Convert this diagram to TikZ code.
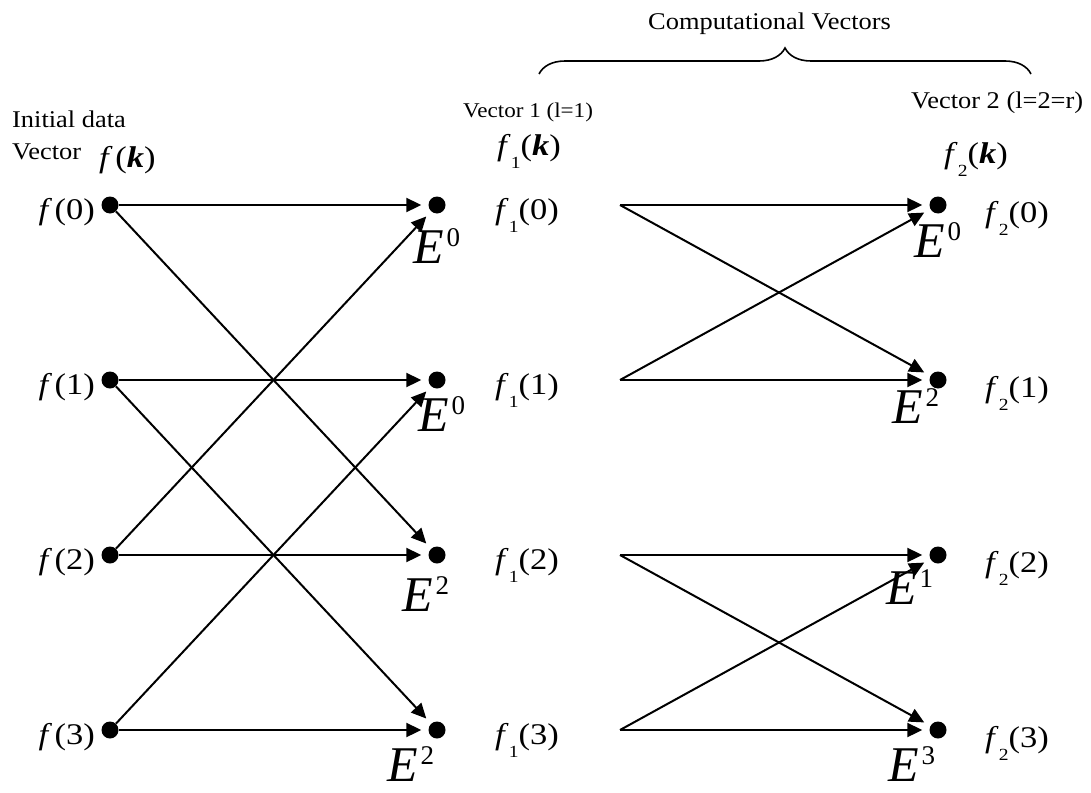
\documentclass[tikz,border=0pt]{standalone}
\usepackage{fontspec}
\setmainfont{Liberation Serif}
\newfontfamily\hdrfont{Liberation Serif}[FakeStretch=1.1]
\newfontfamily\lblfont{Liberation Serif}[FakeStretch=1.15]
\usetikzlibrary{arrows.meta, positioning, decorations.pathreplacing}

\newcommand{\fk}[1]{\textit{f}\kern2.5pt(#1)}
\newcommand{\fsub}[2]{\textit{f}\raisebox{-13pt}{\fontsize{17}{17}\selectfont #1}(#2)}
\newcommand{\Ep}[1]{\textit{E}\kern2pt\raisebox{17pt}{\fontsize{27}{27}\selectfont #1}}

\begin{document}
\begin{tikzpicture}[
    x=1pt, y=-1pt,
    dot/.style={circle, fill=black, inner sep=0pt, minimum size=17pt},
    lbl/.style={font=\lblfont\fontsize{30}{32}\selectfont, inner sep=0pt},
    elbl/.style={font=\fontsize{50}{52}\selectfont, inner sep=0pt},
    txt/.style={font=\hdrfont\fontsize{24}{26}\selectfont, inner sep=0pt, anchor=base west},
    arr/.style={line width=2pt, -{Triangle[length=15pt, width=14pt]}, shorten >=7pt}
]
\useasboundingbox (0,0) rectangle (1091,792);

% headers
\node[txt] (init) at (12,127) {Initial data};
\node[txt] (vec0) at (12,159) {Vector};
\node[lbl, anchor=base west] (fk) at (99,167) {\fk{\textbf{\textit{k}}}};
\node[txt, font=\hdrfont\fontsize{21}{23}\selectfont] (vec1) at (463,117) {Vector 1 (l=1)};
\node[lbl, anchor=base west] (f1k) at (497,155) {\fsub{1}{\textbf{\textit{k}}}};
\node[txt] (vec2) at (911,108) {Vector 2 (l=2=r)};
\node[lbl, anchor=base west] (f2k) at (944,163) {\fsub{2}{\textbf{\textit{k}}}};
\node[txt] (comp) at (648,30) {Computational Vectors};
\coordinate (bl) at (539,74);
\coordinate (br) at (1031,74);
\draw[line width=1.6pt, decorate, decoration={brace, amplitude=26pt}] (bl) -- (br);

% input vector
\node[dot] (a0) at (110,205) {};
\node[dot] (a1) at (110,380) {};
\node[dot] (a2) at (110,555) {};
\node[dot] (a3) at (110,730) {};
\node[lbl, anchor=base east] (la0) at (95,219) {\fk{0}};
\node[lbl, anchor=base east] (la1) at (95,394) {\fk{1}};
\node[lbl, anchor=base east] (la2) at (95,569) {\fk{2}};
\node[lbl, anchor=base east] (la3) at (95,744) {\fk{3}};

% vector 1
\node[dot] (b0) at (437,205) {};
\node[dot] (b1) at (437,380) {};
\node[dot] (b2) at (437,555) {};
\node[dot] (b3) at (437,730) {};
\node[lbl, anchor=base west] (lb0) at (495,219) {\fsub{1}{0}};
\node[lbl, anchor=base west] (lb1) at (495,394) {\fsub{1}{1}};
\node[lbl, anchor=base west] (lb2) at (495,569) {\fsub{1}{2}};
\node[lbl, anchor=base west] (lb3) at (495,744) {\fsub{1}{3}};
\coordinate (c0) at (620,205);
\coordinate (c1) at (620,380);
\coordinate (c2) at (620,555);
\coordinate (c3) at (620,730);

% vector 2
\node[dot] (d0) at (938,205) {};
\node[dot] (d1) at (938,380) {};
\node[dot] (d2) at (938,555) {};
\node[dot] (d3) at (938,730) {};
\node[lbl, anchor=base west] (ld0) at (985,222) {\fsub{2}{0}};
\node[lbl, anchor=base west] (ld1) at (985,397) {\fsub{2}{1}};
\node[lbl, anchor=base west] (ld2) at (985,572) {\fsub{2}{2}};
\node[lbl, anchor=base west] (ld3) at (985,747) {\fsub{2}{3}};

% twiddle factors
\node[elbl] (e0) at (437,246) {\Ep{0}};
\node[elbl] (e1) at (442,414) {\Ep{0}};
\node[elbl] (e2) at (426,594) {\Ep{2}};
\node[elbl] (e3) at (411,764) {\Ep{2}};
\node[elbl] (e4) at (938,240) {\Ep{0}};
\node[elbl] (e5) at (916,406) {\Ep{2}};
\node[elbl] (e6) at (910,587) {\Ep{1}};
\node[elbl] (e7) at (912,764) {\Ep{3}};

% stage 1
\draw[arr] (a0) -- (b0);
\draw[arr] (a0) -- (b2);
\draw[arr] (a1) -- (b1);
\draw[arr] (a1) -- (b3);
\draw[arr] (a2) -- (b0);
\draw[arr] (a2) -- (b2);
\draw[arr] (a3) -- (b1);
\draw[arr] (a3) -- (b3);

% stage 2
\draw[arr] (c0) -- (d0);
\draw[arr] (c0) -- (d1);
\draw[arr] (c1) -- (d0);
\draw[arr] (c1) -- (d1);
\draw[arr] (c2) -- (d2);
\draw[arr] (c2) -- (d3);
\draw[arr] (c3) -- (d2);
\draw[arr] (c3) -- (d3);
\end{tikzpicture}
\end{document}
